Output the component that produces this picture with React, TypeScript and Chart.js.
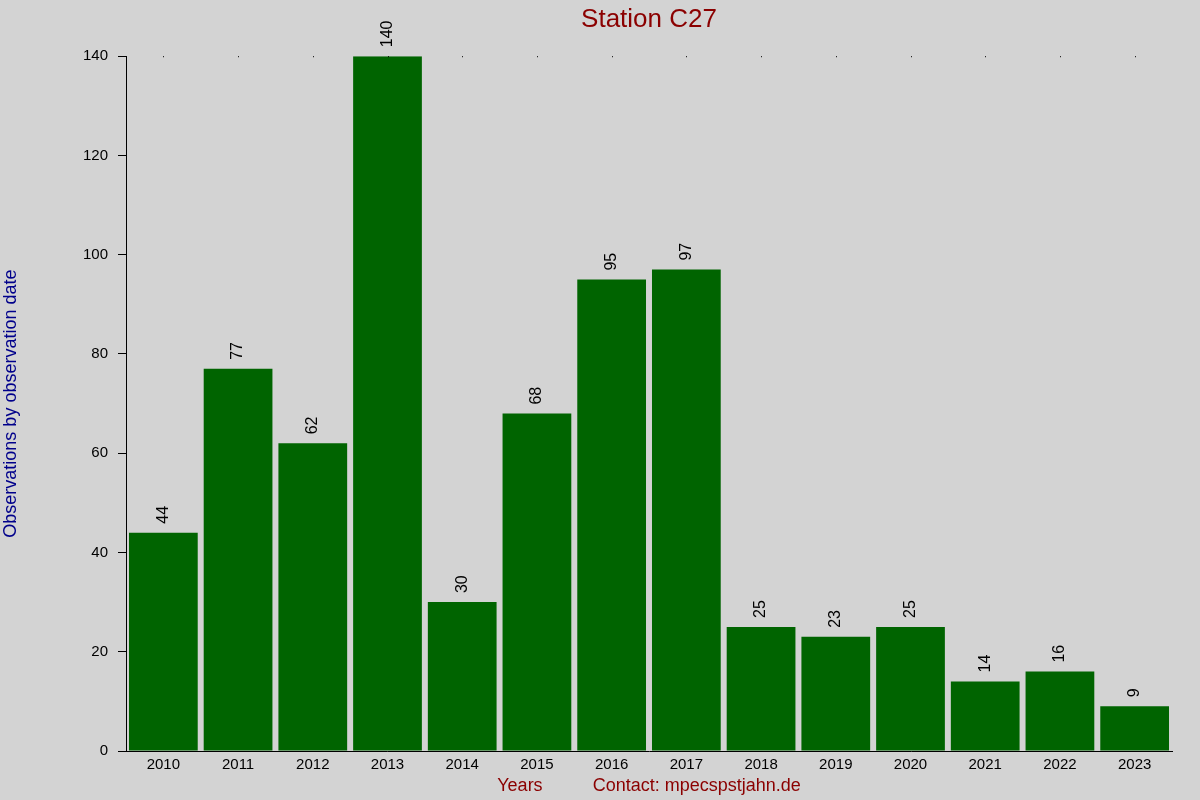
import { useEffect, useRef } from "react";
import { Chart, registerables } from "chart.js";

Chart.register(...registerables);

const years = ["2010", "2011", "2012", "2013", "2014", "2015", "2016", "2017", "2018", "2019", "2020", "2021", "2022", "2023"];
const observations = [44, 77, 62, 140, 30, 68, 95, 97, 25, 23, 25, 14, 16, 9];
const yTicks = [0, 20, 40, 60, 80, 100, 120, 140];

const FONT = "'Liberation Sans', Arial, sans-serif";

// rotated value labels above each bar + tiny dots along the top edge
const barLabels = {
  id: "barLabels",
  afterDatasetsDraw(chart: any) {
    const { ctx } = chart;
    const meta = chart.getDatasetMeta(0);
    ctx.save();
    ctx.fillStyle = "#000";
    ctx.font = `16px ${FONT}`;
    ctx.textAlign = "left";
    ctx.textBaseline = "middle";
    meta.data.forEach((bar: any, i: number) => {
      ctx.save();
      ctx.translate(bar.x, bar.y - 9);
      ctx.rotate(-Math.PI / 2);
      ctx.fillText(String(observations[i]), 0, 0);
      ctx.restore();
    });
    const xs = chart.scales.x;
    const top = chart.chartArea.top;
    years.forEach((_, i) => {
      const px = Math.round(xs.getPixelForValue(i));
      ctx.fillRect(px, top, 1, 1);
    });
    ctx.restore();
  },
};

export default function App() {
  const chartRef = useRef<HTMLCanvasElement>(null);

  useEffect(() => {
    document.body.style.margin = "0";
    if (!chartRef.current) return;

    const chart = new Chart(chartRef.current, {
      type: "bar",
      data: {
        labels: years,
        datasets: [
          {
            data: observations,
            backgroundColor: "#006400",
            borderWidth: 0,
            categoryPercentage: 1,
            barPercentage: 0.92,
          },
        ],
      },
      options: {
        animation: false,
        responsive: false,
        devicePixelRatio: 1,
        layout: { padding: { top: 4, right: 28, left: 0, bottom: 0 } },
        plugins: {
          legend: { display: false },
          tooltip: { enabled: false },
          title: {
            display: true,
            text: "Station C27",
            color: "#8b0000",
            fullSize: false,
            font: { family: FONT, size: 26, weight: "normal" },
            padding: { top: 0, bottom: 21 },
          },
        },
        scales: {
          x: {
            grid: { display: false, drawTicks: false },
            border: { display: true, color: "#000", width: 1 },
            ticks: { color: "#000", font: { family: FONT, size: 15 }, padding: 5, maxRotation: 0, autoSkip: false },
            title: {
              display: true,
              text: "Years          Contact: mpecspstjahn.de",
              color: "#8b0000",
              font: { family: FONT, size: 18 },
              padding: { top: 0, bottom: 3 },
            },
            afterFit(scale: any) {
              scale.height = 49;
            },
          },
          y: {
            min: 0,
            max: 140,
            afterBuildTicks(scale: any) {
              scale.ticks = yTicks.map((v) => ({ value: v }));
            },
            grid: { drawOnChartArea: false, drawTicks: true, tickLength: 8, color: "#000" },
            border: { display: true, color: "#000", width: 1 },
            ticks: { color: "#000", font: { family: FONT, size: 15 }, padding: 10 },
            title: {
              display: true,
              text: "Observations by observation date",
              color: "#00008b",
              font: { family: FONT, size: 18 },
              padding: { top: 0, bottom: 0 },
            },
            afterFit(scale: any) {
              scale.width = 126;
            },
          },
        },
      },
      plugins: [
        barLabels,
        {
          id: "bg",
          beforeDraw(c: any) {
            const { ctx, width, height } = c;
            ctx.save();
            ctx.fillStyle = "#d3d3d3";
            ctx.fillRect(0, 0, width, height);
            ctx.restore();
          },
        },
      ],
    });

    return () => chart.destroy();
  }, []);

  return (
    <div style={{ width: 1200, height: 800 }}>
      <canvas ref={chartRef} width={1200} height={800} />
    </div>
  );
}
